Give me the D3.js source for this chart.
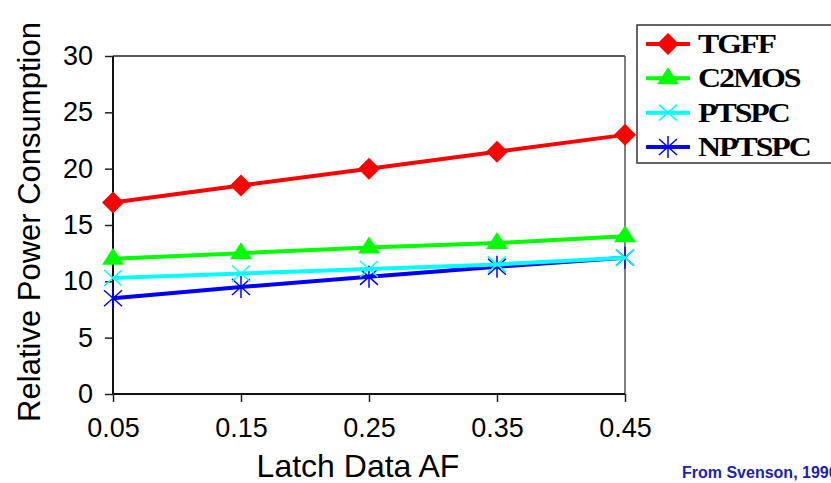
<!DOCTYPE html>
<html>
<head>
<meta charset="utf-8">
<script src="https://cdn.jsdelivr.net/npm/d3@7"></script>
<style>
  body { margin: 0; background: #fff; }
  svg { display: block; }
</style>
</head>
<body>
<div id="chart"></div>
<script>
let width = 831;
let height = 483;

// data
let categories = ["0.05", "0.15", "0.25", "0.35", "0.45"];
let tgff = [17, 18.5, 20, 21.5, 23];
let c2mos = [12, 12.5, 13, 13.4, 14];
let ptspc = [10.3, 10.7, 11.1, 11.5, 12.1];
let nptspc = [8.5, 9.5, 10.4, 11.3, 12.1];
let yTicks = [0, 5, 10, 15, 20, 25, 30];

let series = [
  {name: "TGFF", values: tgff, color: "#ff0000", marker: "diamond"},
  {name: "C2MOS", values: c2mos, color: "#00ff00", marker: "triangle"},
  {name: "PTSPC", values: ptspc, color: "#00ffff", marker: "cross"},
  {name: "NPTSPC", values: nptspc, color: "#0000ff", marker: "star"}
];

let margin = {left: 113, right: 206, top: 56, bottom: 89};
let sans = "Liberation Sans, Arial, sans-serif";

let svg = d3.select("#chart")
  .append("svg")
  .attr("width", width)
  .attr("height", height);

let x = d3.scalePoint()
  .domain(categories)
  .range([margin.left, width - margin.right]);

let y = d3.scaleLinear()
  .domain([0, 30])
  .range([height - margin.bottom, margin.top]);

// plot border top/right
svg.append("line")
  .attr("x1", margin.left).attr("x2", width - margin.right)
  .attr("y1", margin.top).attr("y2", margin.top)
  .attr("stroke", "#222").attr("stroke-width", 1.5);
svg.append("line")
  .attr("x1", width - margin.right).attr("x2", width - margin.right)
  .attr("y1", margin.top).attr("y2", height - margin.bottom)
  .attr("stroke", "#555").attr("stroke-width", 1.5);

// axes
let yAxis = svg.append("g")
  .attr("transform", "translate(" + margin.left + ",0)")
  .call(d3.axisLeft(y).tickValues(yTicks).tickSize(8).tickPadding(12));
let xAxis = svg.append("g")
  .attr("transform", "translate(0," + (height - margin.bottom) + ")")
  .call(d3.axisBottom(x).tickSize(8).tickPadding(16));

[yAxis, xAxis].forEach(function(ax) {
  ax.select(".domain").attr("stroke", "#111").attr("stroke-width", 2);
  ax.selectAll(".tick line").attr("stroke", "#222").attr("stroke-width", 1.5);
  ax.selectAll(".tick text")
    .attr("fill", "#000")
    .style("font-family", sans)
    .style("font-size", "27px");
});
xAxis.select(".domain").attr("d", "M" + margin.left + ",0H" + (width - margin.right));
yAxis.select(".domain").attr("d", "M0," + (height - margin.bottom) + "V" + margin.top);

// axis titles
svg.append("text")
  .attr("transform", "translate(40,222) rotate(-90)")
  .attr("text-anchor", "middle")
  .style("font-family", sans)
  .style("font-size", "31px")
  .text("Relative Power Consumption");

svg.append("text")
  .attr("x", 358).attr("y", 477)
  .attr("text-anchor", "middle")
  .style("font-family", sans)
  .style("font-size", "32px")
  .text("Latch Data AF");

svg.append("text")
  .attr("x", 682).attr("y", 478)
  .attr("fill", "#1c22b0")
  .style("font-family", sans)
  .style("font-weight", "bold")
  .style("font-size", "16px")
  .text("From Svenson, 1990");

// marker drawing
function drawMarker(g, type, color) {
  if (type === "diamond") {
    g.append("path").attr("d", "M0,-11L11,0L0,11L-11,0Z").attr("fill", color);
  } else if (type === "triangle") {
    g.append("path").attr("d", "M0,-11L11,6L-11,6Z").attr("fill", color);
  } else if (type === "cross") {
    g.append("path").attr("d", "M-9,-8L9,8M-9,8L9,-8")
      .attr("stroke", color).attr("stroke-width", 1.5);
  } else {
    g.append("path").attr("d", "M-9,-8L9,8M-9,8L9,-8M0,-11V11")
      .attr("stroke", color).attr("stroke-width", 1.5);
  }
}

let line = d3.line()
  .x(function(d, i) { return x(categories[i]); })
  .y(function(d) { return y(d); });

// draw bottom series first
series.slice().reverse().forEach(function(s) {
  svg.append("path")
    .datum(s.values)
    .attr("fill", "none")
    .attr("stroke", s.color)
    .attr("stroke-width", 4)
    .attr("d", line);
  s.values.forEach(function(v, i) {
    let g = svg.append("g")
      .attr("transform", "translate(" + x(categories[i]) + "," + y(v) + ")");
    drawMarker(g, s.marker, s.color);
  });
});

// legend
let legend = svg.append("g");
legend.append("rect")
  .attr("x", 637).attr("y", 25)
  .attr("width", 210).attr("height", 138)
  .attr("fill", "#fff").attr("stroke", "#333").attr("stroke-width", 1.5);

let legendY = d3.scalePoint()
  .domain(series.map(function(s) { return s.name; }))
  .range([44, 147]);

series.forEach(function(s) {
  let ly = legendY(s.name);
  legend.append("line")
    .attr("x1", 646).attr("x2", 690)
    .attr("y1", ly).attr("y2", ly)
    .attr("stroke", s.color).attr("stroke-width", 4);
  let g = legend.append("g").attr("transform", "translate(668," + ly + ")");
  drawMarker(g, s.marker, s.color);
  legend.append("text")
    .attr("transform", "translate(698," + (ly + 9) + ") scale(1.14,1)")
    .style("font-family", "Liberation Serif, Times New Roman, serif")
    .style("font-weight", "bold")
    .style("font-size", "28px")
    .style("letter-spacing", "-1.8px")
    .text(s.name);
});
</script>
</body>
</html>
